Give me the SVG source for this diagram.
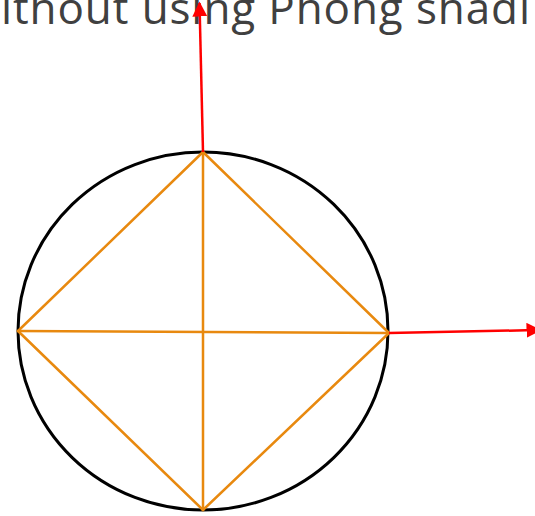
<svg xmlns="http://www.w3.org/2000/svg" width="535" height="516" viewBox="0 0 535 516">
<style>
.title{font-family:"Open Sans","Noto Sans",sans-serif;font-size:44px;fill:#404040}
.orange{stroke:#E8890F;stroke-width:2.5;fill:none;stroke-linecap:round}
.red{stroke:#FF0000;stroke-width:2.5;fill:none}
.circle{stroke:#000;stroke-width:3;fill:none}
</style>
<defs>
<marker id="ah" viewBox="0 0 10 10" refX="9" refY="5" markerWidth="6" markerHeight="6" markerUnits="strokeWidth" orient="auto">
<path d="M0,0 L10,5 L0,10 z" fill="#FF0000"/>
</marker>
</defs>
<text class="title" x="1" y="24" textLength="529">ithout using Phong shadi</text>
<g id="circle">
<ellipse class="circle" cx="203" cy="331" rx="185" ry="179"/>
</g>
<g id="polygon">
<line class="orange" x1="203" y1="152" x2="18" y2="331"/>
<line class="orange" x1="203" y1="152" x2="389" y2="333"/>
<line class="orange" x1="18" y1="331" x2="203" y2="510"/>
<line class="orange" x1="389" y1="333" x2="203" y2="510"/>
<line class="orange" x1="203" y1="152" x2="203" y2="510"/>
<line class="orange" x1="18" y1="331" x2="389" y2="333"/>
</g>
<g id="connectors">
<line class="red" x1="203" y1="152" x2="199.5" y2="3" marker-end="url(#ah)"/>
<line class="red" x1="389" y1="333" x2="540" y2="330" marker-end="url(#ah)"/>
</g>
</svg>
